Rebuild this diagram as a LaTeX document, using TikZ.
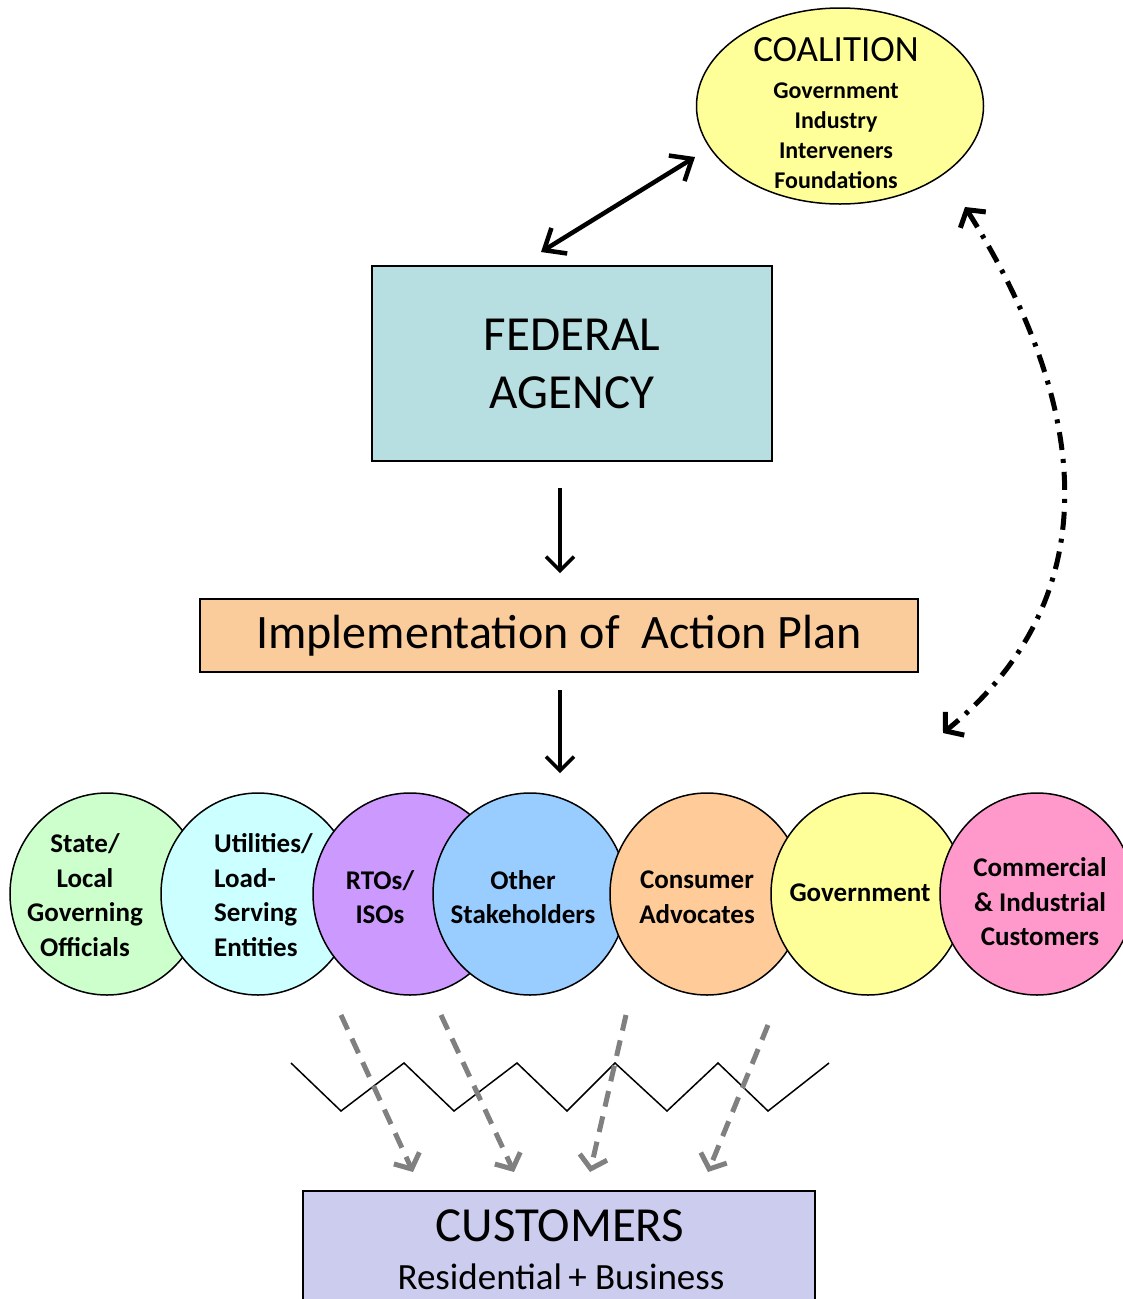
\documentclass[tikz,border=0pt]{standalone}
\usepackage{fontspec}
\setmainfont{Carlito}
\usetikzlibrary{shapes}
\usetikzlibrary{positioning}
\usetikzlibrary{arrows.meta}
\definecolor{coalyellow}{RGB}{255,255,153}
\definecolor{fedteal}{RGB}{183,222,224}
\definecolor{planpeach}{RGB}{251,204,155}
\definecolor{custlav}{RGB}{204,204,238}
\definecolor{stkgreen}{RGB}{204,255,204}
\definecolor{stkcyan}{RGB}{204,255,255}
\definecolor{stkpurple}{RGB}{204,153,255}
\definecolor{stkblue}{RGB}{153,204,255}
\definecolor{stkorange}{RGB}{255,204,153}
\definecolor{stkyellow}{RGB}{255,255,153}
\definecolor{stkpink}{RGB}{255,153,204}
\tikzset{
    boxnode/.style = {rectangle, draw=black, line width=1.5pt, inner sep=0, align=center},
    coalnode/.style = {ellipse, draw=black, line width=1.5pt, fill=coalyellow, minimum width=287pt, minimum height=196pt, inner sep=0, align=center},
    stakenode/.style = {ellipse, draw=black, line width=1.5pt, minimum width=194pt, minimum height=202pt, inner sep=0},
    staketext/.style = {align=center, inner sep=0, font=\fontsize{27}{34.5}\selectfont\bfseries},
    edgedd/.style = {{Straight Barb[length=18pt,width=30pt]}-{Straight Barb[length=18pt,width=30pt]}, line width=4.5pt, black}, % coalition link
    edgen/.style = {-{Straight Barb[length=14pt,width=28pt]}, line width=3.5pt, black}, % down
    edgevd/.style = {{Straight Barb[length=12pt,width=30pt]}-{Straight Barb[length=12pt,width=30pt]}, line width=5pt, black, dash pattern=on 18pt off 9pt on 4pt off 9pt}, % feedback
    edgegd/.style = {-{Straight Barb[length=12pt,width=28pt]}, line width=5pt, gray, dash pattern=on 16pt off 10pt} % to customers
}

\begin{document}
\begin{tikzpicture}[x=1pt,y=-1pt]
\useasboundingbox (0,0) rectangle (1123,1299);

\node[coalnode] at (840.0, 106.0) (coal) {};
\node[inner sep=0, align=center, font=\fontsize{24}{30}\selectfont\bfseries] at (836.0, 113.0) (coalt)
  {{\fontsize{37}{44}\mdseries\selectfont COALITION}\\[7pt]Government\\Industry\\Interveners\\Foundations};
\node[boxnode, fill=fedteal, minimum width=400pt, minimum height=195pt, font=\fontsize{49}{58}\selectfont] at (572.0, 363.5) (fed) {FEDERAL\\AGENCY};
\node[boxnode, fill=planpeach, minimum width=718pt, minimum height=73pt, font=\fontsize{48}{56}\selectfont] at (559.0, 635.5) (plan) {Implementation of\ \ Action Plan};

\node[stakenode, fill=stkgreen]  at ( 107.0, 894.0) (s1) {};
\node[stakenode, fill=stkcyan]   at ( 258.0, 894.0) (s2) {};
\node[stakenode, fill=stkpurple] at ( 410.0, 894.0) (s3) {};
\node[stakenode, fill=stkblue]   at ( 530.0, 894.0) (s4) {};
\node[stakenode, fill=stkorange] at ( 707.0, 894.0) (s5) {};
\node[stakenode, fill=stkyellow] at ( 868.0, 894.0) (s6) {};
\node[stakenode, fill=stkpink]   at (1037.0, 894.0) (s7) {};

\node[staketext] at (  85.0, 895.0) (t1) {State/\\Local\\Governing\\Officials};
\node[staketext, anchor=west, align=left] at ( 214.0, 895.0) (t2) {Utilities/\\Load-\\Serving\\Entities};
\node[staketext] at ( 380.0, 897.0) (t3) {RTOs/\\ISOs};
\node[staketext] at ( 523.0, 897.0) (t4) {Other\\Stakeholders};
\node[staketext] at ( 697.0, 897.0) (t5) {Consumer\\Advocates};
\node[staketext] at ( 860.0, 893.0) (t6) {Government};
\node[staketext] at (1040.0, 902.0) (t7) {Commercial\\\&~Industrial\\Customers};

\node[boxnode, fill=custlav, anchor=north, minimum width=512pt, minimum height=160pt] at (559.0, 1190.0) (cust) {};
\node[inner sep=0, font=\fontsize{49}{58}\selectfont] at (560.0, 1226.0) (custa) {CUSTOMERS};
\node[inner sep=0, font=\fontsize{37}{44}\selectfont] at (561.0, 1277.0) (custb) {Residential\,+ Business};

\coordinate (fedup) at (541.0, 252.0);
\coordinate (coalin) at (695.0, 157.0);
\coordinate (feddown) at (560.0, 488.0);
\coordinate (planup) at (560.0, 573.0);
\coordinate (plandown) at (560.0, 690.0);
\coordinate (stakeup) at (560.0, 773.0);
\coordinate (loopa) at (965.0, 207.0);
\coordinate (loopb) at (943.0, 733.0);
\coordinate (g1) at (341.0, 1015.0);
\coordinate (g2) at (441.0, 1015.0);
\coordinate (g3) at (626.0, 1015.0);
\coordinate (g4) at (768.0, 1025.0);
\coordinate (h1) at (413.0, 1172.0);
\coordinate (h2) at (514.0, 1172.0);
\coordinate (h3) at (590.0, 1172.0);
\coordinate (h4) at (708.0, 1172.0);

\draw[edgedd] (fedup) -- (coalin);
\draw[edgen] (feddown) -- (planup);
\draw[edgen] (plandown) -- (stakeup);
\draw[edgevd] (loopa) .. controls (1105.0, 430.0) and (1095.0, 610.0) .. (loopb);

\draw[line width=1.5pt] (291,1063) -- (341,1111) -- (404,1063) -- (454,1111) -- (517,1063) -- (567,1111)
  -- (615,1063) -- (667,1111) -- (718,1063) -- (768,1111) -- (829,1063);

\draw[edgegd] (g1) -- (h1);
\draw[edgegd] (g2) -- (h2);
\draw[edgegd] (g3) -- (h3);
\draw[edgegd] (g4) -- (h4);

\end{tikzpicture}
\end{document}
